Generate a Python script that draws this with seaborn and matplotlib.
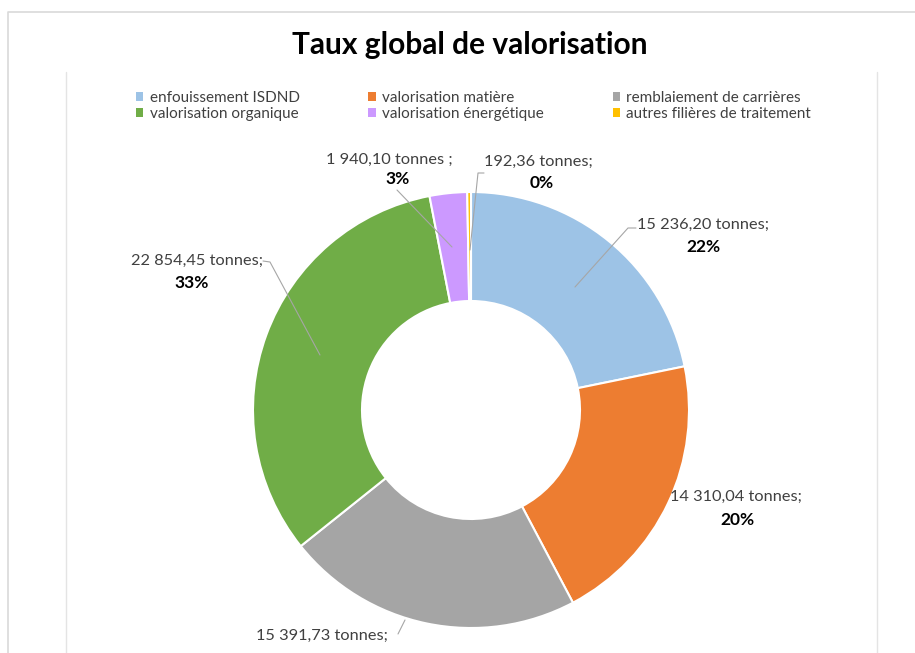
import numpy as np
import matplotlib
matplotlib.use("Agg")
import matplotlib.pyplot as plt
from matplotlib.lines import Line2D
from matplotlib.patches import Patch
import seaborn as sns

# data
categories = ["enfouissement ISDND", "valorisation matière", "remblaiement de carrières",
              "valorisation organique", "valorisation énergétique", "autres filières de traitement"]
tonnes = [15236.20, 14310.04, 15391.73, 22854.45, 1940.10, 192.36]
tonnes_labels = ["15 236,20 tonnes;", "14 310,04 tonnes;", "15 391,73 tonnes;",
                 "22 854,45 tonnes;", "1 940,10 tonnes ;", "192,36 tonnes;"]
colors = ["#9DC3E6", "#ED7D31", "#A5A5A5", "#70AD47", "#CC99FF", "#FFC000"]

W, H = 915, 653
CX, CY, R = 471, 410, 218  # donut centre / radius in pixels


def px(x, y):
    # pixel (from top-left) -> data coords
    return (x - CX) / R, (CY - y) / R


sns.set_theme(style="white")
plt.rcParams["font.family"] = ["Lato", "DejaVu Sans"]

fig = plt.figure(figsize=(W / 100, H / 100), dpi=100)
fig.patch.set_facecolor("white")
ax = fig.add_axes([0, 0, 1, 1])

wedges, _ = ax.pie(tonnes, colors=colors, startangle=90, counterclock=False, radius=1,
                   wedgeprops=dict(width=0.5, edgecolor="white", linewidth=1.5))
ax.set_xlim(-CX / R, (W - CX) / R)
ax.set_ylim(-(H - CY) / R, CY / R)
ax.set_aspect("equal")
ax.axis("off")

# frame lines (chart area border + plot area border)
grey = "#D9D9D9"
fig.add_artist(Line2D([8 / W, 8 / W, 1], [0, 1 - 12 / H, 1 - 12 / H], transform=fig.transFigure,
                      color=grey, lw=1.2))
for xl in (66, 877):
    fig.add_artist(Line2D([xl / W, xl / W], [0, 1 - 72 / H], transform=fig.transFigure,
                          color="#E4E4E4", lw=1.0))

fig.text(470 / W, 1 - 45 / H, "Taux global de valorisation", ha="center", va="center",
         fontsize=21.5, fontweight="bold", color="#000000")

# legend, row-major order like the original
order = [0, 3, 1, 4, 2, 5]
handles = [Patch(facecolor=colors[i], edgecolor="none") for i in order]
fig.legend(handles, [categories[i] for i in order], ncol=3, loc="center left",
           bbox_to_anchor=(122 / W, 1 - 106 / H), frameon=False, fontsize=11,
           handlelength=0.5, handleheight=0.5, handletextpad=0.4,
           columnspacing=4.5, labelspacing=0.12, labelcolor="#404040")

total = sum(tonnes)
pcts = [f"{round(v / total * 100)}%" for v in tonnes]

# label positions (pixels): tonnage line, percent line, leader line points
label_pos = [
    ((703, 225), (703, 247), [(575, 287), (628, 228), (636, 228)]),
    ((736, 497), (737, 520), None),
    ((322, 636), (322, 664), [(398, 634), (405, 620)]),
    ((197, 261), (192, 283), [(263, 261), (270, 262), (320, 355)]),
    ((389, 160), (398, 179), [(397, 190), (452, 247)]),
    ((538, 162), (542, 183), [(484, 173), (478, 173), (470, 250)]),
]

for i, (p1, p2, lead) in enumerate(label_pos):
    x1, y1 = px(*p1)
    x2, y2 = px(*p2)
    ax.text(x1, y1, tonnes_labels[i], ha="center", va="center", fontsize=11.8, color="#404040",
            clip_on=False)
    ax.text(x2, y2, pcts[i], ha="center", va="center", fontsize=12.5, fontweight="bold",
            color="#000000", clip_on=False)
    if lead:
        xs, ys = zip(*[px(a, b) for a, b in lead])
        ax.plot(xs, ys, color="#A6A6A6", lw=0.8)

fig.savefig("out.png", dpi=100, facecolor="white")
